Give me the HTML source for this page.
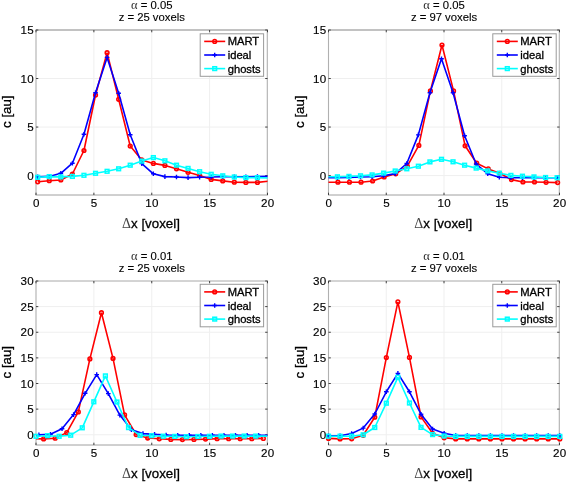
<!DOCTYPE html><html><head><meta charset="utf-8"><style>html,body{margin:0;padding:0;background:#fff;}svg{display:block;filter:blur(0.22px);}text{font-family:"Liberation Sans",sans-serif;fill:#000;stroke:#000;stroke-width:0.3px;}.s{font-family:"Liberation Serif",serif;}.tk{stroke-width:0.15px;letter-spacing:0.3px;}.tt{stroke-width:0.12px;}</style></head><body>
<svg width="567" height="482" viewBox="0 0 567 482">
<rect width="567" height="482" fill="#fff"/>
<defs>
<clipPath id="cpTL"><rect x="36.0" y="30.0" width="231.5" height="165.0"/></clipPath>
<clipPath id="cpTR"><rect x="328.5" y="30.0" width="231.0" height="165.0"/></clipPath>
<clipPath id="cpBL"><rect x="36.0" y="281.0" width="231.5" height="164.0"/></clipPath>
<clipPath id="cpBR"><rect x="328.5" y="281.0" width="231.0" height="164.0"/></clipPath>
</defs>
<path d="M93.88 30V195M151.75 30V195M209.62 30V195M36 175.59H267.5M36 127.06H267.5M36 78.53H267.5" stroke="#efefef" stroke-width="1" fill="none"/>
<path d="M35.5 30H268" stroke="#858585" stroke-width="1"/>
<path d="M35.5 195H268" stroke="#a0a0a0" stroke-width="1"/>
<path d="M36 30V195M267.3 30V195" stroke="#b0b0b0" stroke-width="1.1"/>
<path d="M36 195v-2.3M36 30v2.3M93.88 195v-2.3M93.88 30v2.3M151.75 195v-2.3M151.75 30v2.3M209.62 195v-2.3M209.62 30v2.3M267.5 195v-2.3M267.5 30v2.3M36 175.59h2.3M267.5 175.59h-2.3M36 127.06h2.3M267.5 127.06h-2.3M36 78.53h2.3M267.5 78.53h-2.3M36 30h2.3M267.5 30h-2.3" stroke="#404040" stroke-width="1" fill="none"/>
<g clip-path="url(#cpTL)" fill="none" stroke-linejoin="bevel" stroke-linecap="butt">
<polyline points="37.7,181.8 49.27,180.7 60.83,180 72.4,174 83.96,150.5 95.53,95 107.09,52.7 118.66,99.3 130.22,146.1 141.78,159.9 153.35,163.4 164.91,165.4 176.48,168.8 188.05,172.3 199.61,175.4 211.18,179.4 222.74,180.9 234.31,182.2 245.87,182.4 257.44,182.4 269,181.2" stroke="#ff0000" stroke-width="1.6"/>
</g><g fill="none">
<circle cx="37.7" cy="181.8" r="1.85" fill="none" stroke="#ff0000" stroke-width="1.55"/>
<circle cx="49.27" cy="180.7" r="1.85" fill="none" stroke="#ff0000" stroke-width="1.55"/>
<circle cx="60.83" cy="180" r="1.85" fill="none" stroke="#ff0000" stroke-width="1.55"/>
<circle cx="72.4" cy="174" r="1.85" fill="none" stroke="#ff0000" stroke-width="1.55"/>
<circle cx="83.96" cy="150.5" r="1.85" fill="none" stroke="#ff0000" stroke-width="1.55"/>
<circle cx="95.53" cy="95" r="1.85" fill="none" stroke="#ff0000" stroke-width="1.55"/>
<circle cx="107.09" cy="52.7" r="1.85" fill="none" stroke="#ff0000" stroke-width="1.55"/>
<circle cx="118.66" cy="99.3" r="1.85" fill="none" stroke="#ff0000" stroke-width="1.55"/>
<circle cx="130.22" cy="146.1" r="1.85" fill="none" stroke="#ff0000" stroke-width="1.55"/>
<circle cx="141.78" cy="159.9" r="1.85" fill="none" stroke="#ff0000" stroke-width="1.55"/>
<circle cx="153.35" cy="163.4" r="1.85" fill="none" stroke="#ff0000" stroke-width="1.55"/>
<circle cx="164.91" cy="165.4" r="1.85" fill="none" stroke="#ff0000" stroke-width="1.55"/>
<circle cx="176.48" cy="168.8" r="1.85" fill="none" stroke="#ff0000" stroke-width="1.55"/>
<circle cx="188.05" cy="172.3" r="1.85" fill="none" stroke="#ff0000" stroke-width="1.55"/>
<circle cx="199.61" cy="175.4" r="1.85" fill="none" stroke="#ff0000" stroke-width="1.55"/>
<circle cx="211.18" cy="179.4" r="1.85" fill="none" stroke="#ff0000" stroke-width="1.55"/>
<circle cx="222.74" cy="180.9" r="1.85" fill="none" stroke="#ff0000" stroke-width="1.55"/>
<circle cx="234.31" cy="182.2" r="1.85" fill="none" stroke="#ff0000" stroke-width="1.55"/>
<circle cx="245.87" cy="182.4" r="1.85" fill="none" stroke="#ff0000" stroke-width="1.55"/>
<circle cx="257.44" cy="182.4" r="1.85" fill="none" stroke="#ff0000" stroke-width="1.55"/>
</g>
<g clip-path="url(#cpTL)" fill="none" stroke-linejoin="bevel" stroke-linecap="butt">
<polyline points="37.7,176.9 49.27,176.4 60.83,173.3 72.4,163.2 83.96,134.2 95.53,92.7 107.09,57.4 118.66,93.3 130.22,134.8 141.78,163.6 153.35,173.8 164.91,176.6 176.48,177 188.05,177.6 199.61,177.2 211.18,177 222.74,176.7 234.31,176.7 245.87,176.7 257.44,176.6 269,176.4" stroke="#0000ff" stroke-width="1.6"/>
</g><g fill="none">
<path d="M35.4 176.9H40M37.7 174.6V179.2" stroke="#0000ff" stroke-width="1.4"/>
<path d="M46.97 176.4H51.56M49.27 174.1V178.7" stroke="#0000ff" stroke-width="1.4"/>
<path d="M58.53 173.3H63.13M60.83 171V175.6" stroke="#0000ff" stroke-width="1.4"/>
<path d="M70.1 163.2H74.7M72.4 160.9V165.5" stroke="#0000ff" stroke-width="1.4"/>
<path d="M81.66 134.2H86.26M83.96 131.9V136.5" stroke="#0000ff" stroke-width="1.4"/>
<path d="M93.23 92.7H97.83M95.53 90.4V95" stroke="#0000ff" stroke-width="1.4"/>
<path d="M104.79 57.4H109.39M107.09 55.1V59.7" stroke="#0000ff" stroke-width="1.4"/>
<path d="M116.36 93.3H120.95M118.66 91V95.6" stroke="#0000ff" stroke-width="1.4"/>
<path d="M127.92 134.8H132.52M130.22 132.5V137.1" stroke="#0000ff" stroke-width="1.4"/>
<path d="M139.48 163.6H144.09M141.78 161.3V165.9" stroke="#0000ff" stroke-width="1.4"/>
<path d="M151.05 173.8H155.65M153.35 171.5V176.1" stroke="#0000ff" stroke-width="1.4"/>
<path d="M162.61 176.6H167.22M164.91 174.3V178.9" stroke="#0000ff" stroke-width="1.4"/>
<path d="M174.18 177H178.78M176.48 174.7V179.3" stroke="#0000ff" stroke-width="1.4"/>
<path d="M185.75 177.6H190.35M188.05 175.3V179.9" stroke="#0000ff" stroke-width="1.4"/>
<path d="M197.31 177.2H201.91M199.61 174.9V179.5" stroke="#0000ff" stroke-width="1.4"/>
<path d="M208.88 177H213.48M211.18 174.7V179.3" stroke="#0000ff" stroke-width="1.4"/>
<path d="M220.44 176.7H225.04M222.74 174.4V179" stroke="#0000ff" stroke-width="1.4"/>
<path d="M232 176.7H236.61M234.31 174.4V179" stroke="#0000ff" stroke-width="1.4"/>
<path d="M243.57 176.7H248.17M245.87 174.4V179" stroke="#0000ff" stroke-width="1.4"/>
<path d="M255.13 176.6H259.74M257.44 174.3V178.9" stroke="#0000ff" stroke-width="1.4"/>
</g>
<g clip-path="url(#cpTL)" fill="none" stroke-linejoin="bevel" stroke-linecap="butt">
<polyline points="37.7,177.3 49.27,176.6 60.83,176.9 72.4,176.4 83.96,175.3 95.53,173.3 107.09,171.3 118.66,168.8 130.22,165.2 141.78,161.1 153.35,157.6 164.91,160.8 176.48,165.2 188.05,168.4 199.61,171.7 211.18,174.3 222.74,175.8 234.31,177 245.87,177.6 257.44,177.6 269,178" stroke="#00ffff" stroke-width="1.6"/>
</g><g fill="none">
<rect x="35.85" y="175.45" width="3.7" height="3.7" fill="none" stroke="#00ffff" stroke-width="1.55"/>
<rect x="47.41" y="174.75" width="3.7" height="3.7" fill="none" stroke="#00ffff" stroke-width="1.55"/>
<rect x="58.98" y="175.05" width="3.7" height="3.7" fill="none" stroke="#00ffff" stroke-width="1.55"/>
<rect x="70.55" y="174.55" width="3.7" height="3.7" fill="none" stroke="#00ffff" stroke-width="1.55"/>
<rect x="82.11" y="173.45" width="3.7" height="3.7" fill="none" stroke="#00ffff" stroke-width="1.55"/>
<rect x="93.68" y="171.45" width="3.7" height="3.7" fill="none" stroke="#00ffff" stroke-width="1.55"/>
<rect x="105.24" y="169.45" width="3.7" height="3.7" fill="none" stroke="#00ffff" stroke-width="1.55"/>
<rect x="116.81" y="166.95" width="3.7" height="3.7" fill="none" stroke="#00ffff" stroke-width="1.55"/>
<rect x="128.37" y="163.35" width="3.7" height="3.7" fill="none" stroke="#00ffff" stroke-width="1.55"/>
<rect x="139.94" y="159.25" width="3.7" height="3.7" fill="none" stroke="#00ffff" stroke-width="1.55"/>
<rect x="151.5" y="155.75" width="3.7" height="3.7" fill="none" stroke="#00ffff" stroke-width="1.55"/>
<rect x="163.06" y="158.95" width="3.7" height="3.7" fill="none" stroke="#00ffff" stroke-width="1.55"/>
<rect x="174.63" y="163.35" width="3.7" height="3.7" fill="none" stroke="#00ffff" stroke-width="1.55"/>
<rect x="186.2" y="166.55" width="3.7" height="3.7" fill="none" stroke="#00ffff" stroke-width="1.55"/>
<rect x="197.76" y="169.85" width="3.7" height="3.7" fill="none" stroke="#00ffff" stroke-width="1.55"/>
<rect x="209.33" y="172.45" width="3.7" height="3.7" fill="none" stroke="#00ffff" stroke-width="1.55"/>
<rect x="220.89" y="173.95" width="3.7" height="3.7" fill="none" stroke="#00ffff" stroke-width="1.55"/>
<rect x="232.46" y="175.15" width="3.7" height="3.7" fill="none" stroke="#00ffff" stroke-width="1.55"/>
<rect x="244.02" y="175.75" width="3.7" height="3.7" fill="none" stroke="#00ffff" stroke-width="1.55"/>
<rect x="255.59" y="175.75" width="3.7" height="3.7" fill="none" stroke="#00ffff" stroke-width="1.55"/>
</g>
<text x="36.25" y="207.4" font-size="11.6" class="tk" text-anchor="middle">0</text>
<text x="94.12" y="207.4" font-size="11.6" class="tk" text-anchor="middle">5</text>
<text x="152" y="207.4" font-size="11.6" class="tk" text-anchor="middle">10</text>
<text x="209.88" y="207.4" font-size="11.6" class="tk" text-anchor="middle">15</text>
<text x="267.75" y="207.4" font-size="11.6" class="tk" text-anchor="middle">20</text>
<text x="34" y="179.59" font-size="11.6" class="tk" text-anchor="end">0</text>
<text x="34" y="131.06" font-size="11.6" class="tk" text-anchor="end">5</text>
<text x="34" y="82.53" font-size="11.6" class="tk" text-anchor="end">10</text>
<text x="34" y="34" font-size="11.6" class="tk" text-anchor="end">15</text>
<text x="151.75" y="9.2" font-size="11.3" class="tt" text-anchor="middle"><tspan class="s" font-size="12.5" fill="#333" stroke="none">&#945;</tspan> = 0.05</text>
<text x="151.75" y="21.4" font-size="11.3" class="tt" text-anchor="middle">z = 25 voxels</text>
<text x="150.95" y="227.8" font-size="13.3" text-anchor="middle"><tspan class="s" fill="#444" stroke="none" font-size="14">&#916;</tspan>x [voxel]</text>
<text transform="translate(11,111.7) rotate(-90)" font-size="13.3" text-anchor="middle">c [au]</text>
<rect x="200.2" y="33.8" width="63.4" height="42.5" fill="#fff" stroke="#9a9a9a" stroke-width="1"/>
<path d="M204.2 41.4H225.2" stroke="#ff0000" stroke-width="1.6"/>
<circle cx="214.7" cy="41.4" r="1.85" fill="none" stroke="#ff0000" stroke-width="1.55"/>
<text x="227.7" y="45.4" font-size="11.2">MART</text>
<path d="M204.2 55H225.2" stroke="#0000ff" stroke-width="1.6"/>
<path d="M212.4 55H217M214.7 52.7V57.3" stroke="#0000ff" stroke-width="1.4"/>
<text x="227.7" y="59" font-size="11.2">ideal</text>
<path d="M204.2 68.6H225.2" stroke="#00ffff" stroke-width="1.6"/>
<rect x="212.85" y="66.75" width="3.7" height="3.7" fill="none" stroke="#00ffff" stroke-width="1.55"/>
<text x="227.7" y="72.6" font-size="11.2">ghosts</text>
<path d="M386.25 30V195M444 30V195M501.75 30V195M328.5 175.59H559.5M328.5 127.06H559.5M328.5 78.53H559.5" stroke="#efefef" stroke-width="1" fill="none"/>
<path d="M328 30H560" stroke="#858585" stroke-width="1"/>
<path d="M328 195H560" stroke="#a0a0a0" stroke-width="1"/>
<path d="M328.5 30V195M559.3 30V195" stroke="#b0b0b0" stroke-width="1.1"/>
<path d="M328.5 195v-2.3M328.5 30v2.3M386.25 195v-2.3M386.25 30v2.3M444 195v-2.3M444 30v2.3M501.75 195v-2.3M501.75 30v2.3M559.5 195v-2.3M559.5 30v2.3M328.5 175.59h2.3M559.5 175.59h-2.3M328.5 127.06h2.3M559.5 127.06h-2.3M328.5 78.53h2.3M559.5 78.53h-2.3M328.5 30h2.3M559.5 30h-2.3" stroke="#404040" stroke-width="1" fill="none"/>
<g clip-path="url(#cpTR)" fill="none" stroke-linejoin="bevel" stroke-linecap="butt">
<polyline points="326.33,182.2 337.9,182.2 349.46,182.2 361.03,182.2 372.59,181 384.16,177 395.72,173.8 407.29,166.2 418.85,145.4 430.42,90.9 441.98,45 453.55,90.9 465.11,145.8 476.68,163.2 488.25,168.9 499.81,173.3 511.38,179.6 522.94,182 534.5,182 546.07,182.3 557.63,182.6" stroke="#ff0000" stroke-width="1.6"/>
</g><g fill="none">
<circle cx="337.9" cy="182.2" r="1.85" fill="none" stroke="#ff0000" stroke-width="1.55"/>
<circle cx="349.46" cy="182.2" r="1.85" fill="none" stroke="#ff0000" stroke-width="1.55"/>
<circle cx="361.03" cy="182.2" r="1.85" fill="none" stroke="#ff0000" stroke-width="1.55"/>
<circle cx="372.59" cy="181" r="1.85" fill="none" stroke="#ff0000" stroke-width="1.55"/>
<circle cx="384.16" cy="177" r="1.85" fill="none" stroke="#ff0000" stroke-width="1.55"/>
<circle cx="395.72" cy="173.8" r="1.85" fill="none" stroke="#ff0000" stroke-width="1.55"/>
<circle cx="407.29" cy="166.2" r="1.85" fill="none" stroke="#ff0000" stroke-width="1.55"/>
<circle cx="418.85" cy="145.4" r="1.85" fill="none" stroke="#ff0000" stroke-width="1.55"/>
<circle cx="430.42" cy="90.9" r="1.85" fill="none" stroke="#ff0000" stroke-width="1.55"/>
<circle cx="441.98" cy="45" r="1.85" fill="none" stroke="#ff0000" stroke-width="1.55"/>
<circle cx="453.55" cy="90.9" r="1.85" fill="none" stroke="#ff0000" stroke-width="1.55"/>
<circle cx="465.11" cy="145.8" r="1.85" fill="none" stroke="#ff0000" stroke-width="1.55"/>
<circle cx="476.68" cy="163.2" r="1.85" fill="none" stroke="#ff0000" stroke-width="1.55"/>
<circle cx="488.25" cy="168.9" r="1.85" fill="none" stroke="#ff0000" stroke-width="1.55"/>
<circle cx="499.81" cy="173.3" r="1.85" fill="none" stroke="#ff0000" stroke-width="1.55"/>
<circle cx="511.38" cy="179.6" r="1.85" fill="none" stroke="#ff0000" stroke-width="1.55"/>
<circle cx="522.94" cy="182" r="1.85" fill="none" stroke="#ff0000" stroke-width="1.55"/>
<circle cx="534.5" cy="182" r="1.85" fill="none" stroke="#ff0000" stroke-width="1.55"/>
<circle cx="546.07" cy="182.3" r="1.85" fill="none" stroke="#ff0000" stroke-width="1.55"/>
<circle cx="557.63" cy="182.6" r="1.85" fill="none" stroke="#ff0000" stroke-width="1.55"/>
</g>
<g clip-path="url(#cpTR)" fill="none" stroke-linejoin="bevel" stroke-linecap="butt">
<polyline points="325.83,177.8 337.4,177.7 348.96,177.4 360.53,177 372.09,176.8 383.66,175.8 395.22,173.6 406.79,163.5 418.35,134.9 429.92,92.7 441.48,58.7 453.05,92.7 464.61,135.8 476.18,164 487.75,173.8 499.31,177.2 510.88,177.8 522.44,177.7 534,177.7 545.57,177.7 557.13,177.7" stroke="#0000ff" stroke-width="1.6"/>
</g><g fill="none">
<path d="M335.1 177.7H339.7M337.4 175.4V180" stroke="#0000ff" stroke-width="1.4"/>
<path d="M346.66 177.4H351.26M348.96 175.1V179.7" stroke="#0000ff" stroke-width="1.4"/>
<path d="M358.23 177H362.83M360.53 174.7V179.3" stroke="#0000ff" stroke-width="1.4"/>
<path d="M369.79 176.8H374.39M372.09 174.5V179.1" stroke="#0000ff" stroke-width="1.4"/>
<path d="M381.36 175.8H385.96M383.66 173.5V178.1" stroke="#0000ff" stroke-width="1.4"/>
<path d="M392.92 173.6H397.52M395.22 171.3V175.9" stroke="#0000ff" stroke-width="1.4"/>
<path d="M404.49 163.5H409.09M406.79 161.2V165.8" stroke="#0000ff" stroke-width="1.4"/>
<path d="M416.05 134.9H420.65M418.35 132.6V137.2" stroke="#0000ff" stroke-width="1.4"/>
<path d="M427.62 92.7H432.22M429.92 90.4V95" stroke="#0000ff" stroke-width="1.4"/>
<path d="M439.18 58.7H443.78M441.48 56.4V61" stroke="#0000ff" stroke-width="1.4"/>
<path d="M450.75 92.7H455.35M453.05 90.4V95" stroke="#0000ff" stroke-width="1.4"/>
<path d="M462.31 135.8H466.91M464.61 133.5V138.1" stroke="#0000ff" stroke-width="1.4"/>
<path d="M473.88 164H478.48M476.18 161.7V166.3" stroke="#0000ff" stroke-width="1.4"/>
<path d="M485.44 173.8H490.05M487.75 171.5V176.1" stroke="#0000ff" stroke-width="1.4"/>
<path d="M497.01 177.2H501.61M499.31 174.9V179.5" stroke="#0000ff" stroke-width="1.4"/>
<path d="M508.57 177.8H513.17M510.88 175.5V180.1" stroke="#0000ff" stroke-width="1.4"/>
<path d="M520.14 177.7H524.74M522.44 175.4V180" stroke="#0000ff" stroke-width="1.4"/>
<path d="M531.71 177.7H536.3M534 175.4V180" stroke="#0000ff" stroke-width="1.4"/>
<path d="M543.27 177.7H547.87M545.57 175.4V180" stroke="#0000ff" stroke-width="1.4"/>
<path d="M554.84 177.7H559.43M557.13 175.4V180" stroke="#0000ff" stroke-width="1.4"/>
</g>
<g clip-path="url(#cpTR)" fill="none" stroke-linejoin="bevel" stroke-linecap="butt">
<polyline points="325.83,176.8 337.4,176.8 348.96,176.4 360.53,175.8 372.09,174.9 383.66,173.1 395.22,171 406.79,168.8 418.35,166.2 429.92,161.9 441.48,159.3 453.05,161.8 464.61,165.2 476.18,168.1 487.75,170.9 499.31,173.2 510.88,175.4 522.44,176.2 534,176.9 545.57,177.5 557.13,177.7" stroke="#00ffff" stroke-width="1.6"/>
</g><g fill="none">
<rect x="335.55" y="174.95" width="3.7" height="3.7" fill="none" stroke="#00ffff" stroke-width="1.55"/>
<rect x="347.11" y="174.55" width="3.7" height="3.7" fill="none" stroke="#00ffff" stroke-width="1.55"/>
<rect x="358.68" y="173.95" width="3.7" height="3.7" fill="none" stroke="#00ffff" stroke-width="1.55"/>
<rect x="370.24" y="173.05" width="3.7" height="3.7" fill="none" stroke="#00ffff" stroke-width="1.55"/>
<rect x="381.81" y="171.25" width="3.7" height="3.7" fill="none" stroke="#00ffff" stroke-width="1.55"/>
<rect x="393.37" y="169.15" width="3.7" height="3.7" fill="none" stroke="#00ffff" stroke-width="1.55"/>
<rect x="404.94" y="166.95" width="3.7" height="3.7" fill="none" stroke="#00ffff" stroke-width="1.55"/>
<rect x="416.5" y="164.35" width="3.7" height="3.7" fill="none" stroke="#00ffff" stroke-width="1.55"/>
<rect x="428.07" y="160.05" width="3.7" height="3.7" fill="none" stroke="#00ffff" stroke-width="1.55"/>
<rect x="439.63" y="157.45" width="3.7" height="3.7" fill="none" stroke="#00ffff" stroke-width="1.55"/>
<rect x="451.2" y="159.95" width="3.7" height="3.7" fill="none" stroke="#00ffff" stroke-width="1.55"/>
<rect x="462.76" y="163.35" width="3.7" height="3.7" fill="none" stroke="#00ffff" stroke-width="1.55"/>
<rect x="474.33" y="166.25" width="3.7" height="3.7" fill="none" stroke="#00ffff" stroke-width="1.55"/>
<rect x="485.89" y="169.05" width="3.7" height="3.7" fill="none" stroke="#00ffff" stroke-width="1.55"/>
<rect x="497.46" y="171.35" width="3.7" height="3.7" fill="none" stroke="#00ffff" stroke-width="1.55"/>
<rect x="509.02" y="173.55" width="3.7" height="3.7" fill="none" stroke="#00ffff" stroke-width="1.55"/>
<rect x="520.59" y="174.35" width="3.7" height="3.7" fill="none" stroke="#00ffff" stroke-width="1.55"/>
<rect x="532.15" y="175.05" width="3.7" height="3.7" fill="none" stroke="#00ffff" stroke-width="1.55"/>
<rect x="543.72" y="175.65" width="3.7" height="3.7" fill="none" stroke="#00ffff" stroke-width="1.55"/>
<rect x="555.28" y="175.85" width="3.7" height="3.7" fill="none" stroke="#00ffff" stroke-width="1.55"/>
</g>
<text x="328.75" y="207.4" font-size="11.6" class="tk" text-anchor="middle">0</text>
<text x="386.5" y="207.4" font-size="11.6" class="tk" text-anchor="middle">5</text>
<text x="444.25" y="207.4" font-size="11.6" class="tk" text-anchor="middle">10</text>
<text x="502" y="207.4" font-size="11.6" class="tk" text-anchor="middle">15</text>
<text x="559.75" y="207.4" font-size="11.6" class="tk" text-anchor="middle">20</text>
<text x="326.5" y="179.59" font-size="11.6" class="tk" text-anchor="end">0</text>
<text x="326.5" y="131.06" font-size="11.6" class="tk" text-anchor="end">5</text>
<text x="326.5" y="82.53" font-size="11.6" class="tk" text-anchor="end">10</text>
<text x="326.5" y="34" font-size="11.6" class="tk" text-anchor="end">15</text>
<text x="444" y="9.2" font-size="11.3" class="tt" text-anchor="middle"><tspan class="s" font-size="12.5" fill="#333" stroke="none">&#945;</tspan> = 0.05</text>
<text x="444" y="21.4" font-size="11.3" class="tt" text-anchor="middle">z = 97 voxels</text>
<text x="443.2" y="227.8" font-size="13.3" text-anchor="middle"><tspan class="s" fill="#444" stroke="none" font-size="14">&#916;</tspan>x [voxel]</text>
<text transform="translate(303.5,111.7) rotate(-90)" font-size="13.3" text-anchor="middle">c [au]</text>
<rect x="492.8" y="33.8" width="63.4" height="42.5" fill="#fff" stroke="#9a9a9a" stroke-width="1"/>
<path d="M496.8 41.4H517.8" stroke="#ff0000" stroke-width="1.6"/>
<circle cx="507.3" cy="41.4" r="1.85" fill="none" stroke="#ff0000" stroke-width="1.55"/>
<text x="520.3" y="45.4" font-size="11.2">MART</text>
<path d="M496.8 55H517.8" stroke="#0000ff" stroke-width="1.6"/>
<path d="M505 55H509.6M507.3 52.7V57.3" stroke="#0000ff" stroke-width="1.4"/>
<text x="520.3" y="59" font-size="11.2">ideal</text>
<path d="M496.8 68.6H517.8" stroke="#00ffff" stroke-width="1.6"/>
<rect x="505.45" y="66.75" width="3.7" height="3.7" fill="none" stroke="#00ffff" stroke-width="1.55"/>
<text x="520.3" y="72.6" font-size="11.2">ghosts</text>
<path d="M93.88 281V445M151.75 281V445M209.62 281V445M36 434.75H267.5M36 409.12H267.5M36 383.5H267.5M36 357.88H267.5M36 332.25H267.5M36 306.62H267.5" stroke="#efefef" stroke-width="1" fill="none"/>
<path d="M35.5 281H268" stroke="#a8a8a8" stroke-width="1"/>
<path d="M35.5 445H268" stroke="#a0a0a0" stroke-width="1"/>
<path d="M36 281V445M267.3 281V445" stroke="#b0b0b0" stroke-width="1.1"/>
<path d="M36 445v-2.3M36 281v2.3M93.88 445v-2.3M93.88 281v2.3M151.75 445v-2.3M151.75 281v2.3M209.62 445v-2.3M209.62 281v2.3M267.5 445v-2.3M267.5 281v2.3M36 434.75h2.3M267.5 434.75h-2.3M36 409.12h2.3M267.5 409.12h-2.3M36 383.5h2.3M267.5 383.5h-2.3M36 357.88h2.3M267.5 357.88h-2.3M36 332.25h2.3M267.5 332.25h-2.3M36 306.62h2.3M267.5 306.62h-2.3M36 281h2.3M267.5 281h-2.3" stroke="#404040" stroke-width="1" fill="none"/>
<g clip-path="url(#cpBL)" fill="none" stroke-linejoin="bevel" stroke-linecap="butt">
<polyline points="32.05,438.6 43.62,438.9 55.18,438.2 66.75,432.6 78.31,411.9 89.88,358.9 101.44,312.7 113.01,358.4 124.57,414.9 136.14,434.5 147.7,438 159.27,438.8 170.83,439.4 182.4,439.6 193.97,439.4 205.53,439.1 217.09,438.7 228.66,438.7 240.22,438.7 251.79,438.7 263.35,438.4" stroke="#ff0000" stroke-width="1.6"/>
</g><g fill="none">
<circle cx="43.62" cy="438.9" r="1.85" fill="none" stroke="#ff0000" stroke-width="1.55"/>
<circle cx="55.18" cy="438.2" r="1.85" fill="none" stroke="#ff0000" stroke-width="1.55"/>
<circle cx="66.75" cy="432.6" r="1.85" fill="none" stroke="#ff0000" stroke-width="1.55"/>
<circle cx="78.31" cy="411.9" r="1.85" fill="none" stroke="#ff0000" stroke-width="1.55"/>
<circle cx="89.88" cy="358.9" r="1.85" fill="none" stroke="#ff0000" stroke-width="1.55"/>
<circle cx="101.44" cy="312.7" r="1.85" fill="none" stroke="#ff0000" stroke-width="1.55"/>
<circle cx="113.01" cy="358.4" r="1.85" fill="none" stroke="#ff0000" stroke-width="1.55"/>
<circle cx="124.57" cy="414.9" r="1.85" fill="none" stroke="#ff0000" stroke-width="1.55"/>
<circle cx="136.14" cy="434.5" r="1.85" fill="none" stroke="#ff0000" stroke-width="1.55"/>
<circle cx="147.7" cy="438" r="1.85" fill="none" stroke="#ff0000" stroke-width="1.55"/>
<circle cx="159.27" cy="438.8" r="1.85" fill="none" stroke="#ff0000" stroke-width="1.55"/>
<circle cx="170.83" cy="439.4" r="1.85" fill="none" stroke="#ff0000" stroke-width="1.55"/>
<circle cx="182.4" cy="439.6" r="1.85" fill="none" stroke="#ff0000" stroke-width="1.55"/>
<circle cx="193.97" cy="439.4" r="1.85" fill="none" stroke="#ff0000" stroke-width="1.55"/>
<circle cx="205.53" cy="439.1" r="1.85" fill="none" stroke="#ff0000" stroke-width="1.55"/>
<circle cx="217.09" cy="438.7" r="1.85" fill="none" stroke="#ff0000" stroke-width="1.55"/>
<circle cx="228.66" cy="438.7" r="1.85" fill="none" stroke="#ff0000" stroke-width="1.55"/>
<circle cx="240.22" cy="438.7" r="1.85" fill="none" stroke="#ff0000" stroke-width="1.55"/>
<circle cx="251.79" cy="438.7" r="1.85" fill="none" stroke="#ff0000" stroke-width="1.55"/>
<circle cx="263.35" cy="438.4" r="1.85" fill="none" stroke="#ff0000" stroke-width="1.55"/>
</g>
<g clip-path="url(#cpBL)" fill="none" stroke-linejoin="bevel" stroke-linecap="butt">
<polyline points="27.34,435 38.9,434.7 50.46,434.2 62.03,428.7 73.59,414.6 85.16,393.3 96.72,374.6 108.29,393.6 119.85,415.1 131.42,429.8 142.98,433.6 154.55,434.4 166.11,435 177.68,435.3 189.25,435.3 200.81,435.3 212.38,435.3 223.94,435.3 235.5,435.3 247.07,435.3 258.63,435.3 270.2,435.3" stroke="#0000ff" stroke-width="1.6"/>
</g><g fill="none">
<path d="M36.6 434.7H41.2M38.9 432.4V437" stroke="#0000ff" stroke-width="1.4"/>
<path d="M48.16 434.2H52.76M50.46 431.9V436.5" stroke="#0000ff" stroke-width="1.4"/>
<path d="M59.73 428.7H64.33M62.03 426.4V431" stroke="#0000ff" stroke-width="1.4"/>
<path d="M71.3 414.6H75.89M73.59 412.3V416.9" stroke="#0000ff" stroke-width="1.4"/>
<path d="M82.86 393.3H87.46M85.16 391V395.6" stroke="#0000ff" stroke-width="1.4"/>
<path d="M94.42 374.6H99.02M96.72 372.3V376.9" stroke="#0000ff" stroke-width="1.4"/>
<path d="M105.99 393.6H110.59M108.29 391.3V395.9" stroke="#0000ff" stroke-width="1.4"/>
<path d="M117.55 415.1H122.15M119.85 412.8V417.4" stroke="#0000ff" stroke-width="1.4"/>
<path d="M129.12 429.8H133.72M131.42 427.5V432.1" stroke="#0000ff" stroke-width="1.4"/>
<path d="M140.68 433.6H145.28M142.98 431.3V435.9" stroke="#0000ff" stroke-width="1.4"/>
<path d="M152.25 434.4H156.85M154.55 432.1V436.7" stroke="#0000ff" stroke-width="1.4"/>
<path d="M163.81 435H168.41M166.11 432.7V437.3" stroke="#0000ff" stroke-width="1.4"/>
<path d="M175.38 435.3H179.98M177.68 433V437.6" stroke="#0000ff" stroke-width="1.4"/>
<path d="M186.94 435.3H191.55M189.25 433V437.6" stroke="#0000ff" stroke-width="1.4"/>
<path d="M198.51 435.3H203.11M200.81 433V437.6" stroke="#0000ff" stroke-width="1.4"/>
<path d="M210.07 435.3H214.68M212.38 433V437.6" stroke="#0000ff" stroke-width="1.4"/>
<path d="M221.64 435.3H226.24M223.94 433V437.6" stroke="#0000ff" stroke-width="1.4"/>
<path d="M233.2 435.3H237.81M235.5 433V437.6" stroke="#0000ff" stroke-width="1.4"/>
<path d="M244.77 435.3H249.37M247.07 433V437.6" stroke="#0000ff" stroke-width="1.4"/>
<path d="M256.33 435.3H260.94M258.63 433V437.6" stroke="#0000ff" stroke-width="1.4"/>
</g>
<g clip-path="url(#cpBL)" fill="none" stroke-linejoin="bevel" stroke-linecap="butt">
<polyline points="36,436.3 47.56,435.7 59.13,436.3 70.69,435.2 82.26,427.8 93.82,401.8 105.39,375.9 116.95,402 128.52,427.6 140.08,435.4 151.65,435.7 163.21,436.2 174.78,436.4 186.34,436.7 197.91,436.5 209.47,436.3 221.04,436.1 232.6,436.1 244.17,436.1 255.73,436.1 267.3,436.1" stroke="#00ffff" stroke-width="1.6"/>
</g><g fill="none">
<rect x="34.15" y="434.45" width="3.7" height="3.7" fill="none" stroke="#00ffff" stroke-width="1.55"/>
<rect x="45.71" y="433.85" width="3.7" height="3.7" fill="none" stroke="#00ffff" stroke-width="1.55"/>
<rect x="57.28" y="434.45" width="3.7" height="3.7" fill="none" stroke="#00ffff" stroke-width="1.55"/>
<rect x="68.84" y="433.35" width="3.7" height="3.7" fill="none" stroke="#00ffff" stroke-width="1.55"/>
<rect x="80.41" y="425.95" width="3.7" height="3.7" fill="none" stroke="#00ffff" stroke-width="1.55"/>
<rect x="91.97" y="399.95" width="3.7" height="3.7" fill="none" stroke="#00ffff" stroke-width="1.55"/>
<rect x="103.54" y="374.05" width="3.7" height="3.7" fill="none" stroke="#00ffff" stroke-width="1.55"/>
<rect x="115.11" y="400.15" width="3.7" height="3.7" fill="none" stroke="#00ffff" stroke-width="1.55"/>
<rect x="126.67" y="425.75" width="3.7" height="3.7" fill="none" stroke="#00ffff" stroke-width="1.55"/>
<rect x="138.23" y="433.55" width="3.7" height="3.7" fill="none" stroke="#00ffff" stroke-width="1.55"/>
<rect x="149.8" y="433.85" width="3.7" height="3.7" fill="none" stroke="#00ffff" stroke-width="1.55"/>
<rect x="161.36" y="434.35" width="3.7" height="3.7" fill="none" stroke="#00ffff" stroke-width="1.55"/>
<rect x="172.93" y="434.55" width="3.7" height="3.7" fill="none" stroke="#00ffff" stroke-width="1.55"/>
<rect x="184.5" y="434.85" width="3.7" height="3.7" fill="none" stroke="#00ffff" stroke-width="1.55"/>
<rect x="196.06" y="434.65" width="3.7" height="3.7" fill="none" stroke="#00ffff" stroke-width="1.55"/>
<rect x="207.62" y="434.45" width="3.7" height="3.7" fill="none" stroke="#00ffff" stroke-width="1.55"/>
<rect x="219.19" y="434.25" width="3.7" height="3.7" fill="none" stroke="#00ffff" stroke-width="1.55"/>
<rect x="230.75" y="434.25" width="3.7" height="3.7" fill="none" stroke="#00ffff" stroke-width="1.55"/>
<rect x="242.32" y="434.25" width="3.7" height="3.7" fill="none" stroke="#00ffff" stroke-width="1.55"/>
<rect x="253.88" y="434.25" width="3.7" height="3.7" fill="none" stroke="#00ffff" stroke-width="1.55"/>
</g>
<text x="36.25" y="457.4" font-size="11.6" class="tk" text-anchor="middle">0</text>
<text x="94.12" y="457.4" font-size="11.6" class="tk" text-anchor="middle">5</text>
<text x="152" y="457.4" font-size="11.6" class="tk" text-anchor="middle">10</text>
<text x="209.88" y="457.4" font-size="11.6" class="tk" text-anchor="middle">15</text>
<text x="267.75" y="457.4" font-size="11.6" class="tk" text-anchor="middle">20</text>
<text x="34" y="438.75" font-size="11.6" class="tk" text-anchor="end">0</text>
<text x="34" y="413.12" font-size="11.6" class="tk" text-anchor="end">5</text>
<text x="34" y="387.5" font-size="11.6" class="tk" text-anchor="end">10</text>
<text x="34" y="361.88" font-size="11.6" class="tk" text-anchor="end">15</text>
<text x="34" y="336.25" font-size="11.6" class="tk" text-anchor="end">20</text>
<text x="34" y="310.62" font-size="11.6" class="tk" text-anchor="end">25</text>
<text x="34" y="285" font-size="11.6" class="tk" text-anchor="end">30</text>
<text x="151.75" y="259.9" font-size="11.3" class="tt" text-anchor="middle"><tspan class="s" font-size="12.5" fill="#333" stroke="none">&#945;</tspan> = 0.01</text>
<text x="151.75" y="272.1" font-size="11.3" class="tt" text-anchor="middle">z = 25 voxels</text>
<text x="150.95" y="477.8" font-size="13.3" text-anchor="middle"><tspan class="s" fill="#444" stroke="none" font-size="14">&#916;</tspan>x [voxel]</text>
<text transform="translate(11,362.2) rotate(-90)" font-size="13.3" text-anchor="middle">c [au]</text>
<rect x="200.2" y="284.3" width="63.4" height="42.5" fill="#fff" stroke="#9a9a9a" stroke-width="1"/>
<path d="M204.2 291.9H225.2" stroke="#ff0000" stroke-width="1.6"/>
<circle cx="214.7" cy="291.9" r="1.85" fill="none" stroke="#ff0000" stroke-width="1.55"/>
<text x="227.7" y="295.9" font-size="11.2">MART</text>
<path d="M204.2 305.5H225.2" stroke="#0000ff" stroke-width="1.6"/>
<path d="M212.4 305.5H217M214.7 303.2V307.8" stroke="#0000ff" stroke-width="1.4"/>
<text x="227.7" y="309.5" font-size="11.2">ideal</text>
<path d="M204.2 319.1H225.2" stroke="#00ffff" stroke-width="1.6"/>
<rect x="212.85" y="317.25" width="3.7" height="3.7" fill="none" stroke="#00ffff" stroke-width="1.55"/>
<text x="227.7" y="323.1" font-size="11.2">ghosts</text>
<path d="M386.25 281V445M444 281V445M501.75 281V445M328.5 434.75H559.5M328.5 409.12H559.5M328.5 383.5H559.5M328.5 357.88H559.5M328.5 332.25H559.5M328.5 306.62H559.5" stroke="#efefef" stroke-width="1" fill="none"/>
<path d="M328 281H560" stroke="#a8a8a8" stroke-width="1"/>
<path d="M328 445H560" stroke="#a0a0a0" stroke-width="1"/>
<path d="M328.5 281V445M559.3 281V445" stroke="#b0b0b0" stroke-width="1.1"/>
<path d="M328.5 445v-2.3M328.5 281v2.3M386.25 445v-2.3M386.25 281v2.3M444 445v-2.3M444 281v2.3M501.75 445v-2.3M501.75 281v2.3M559.5 445v-2.3M559.5 281v2.3M328.5 434.75h2.3M559.5 434.75h-2.3M328.5 409.12h2.3M559.5 409.12h-2.3M328.5 383.5h2.3M559.5 383.5h-2.3M328.5 357.88h2.3M559.5 357.88h-2.3M328.5 332.25h2.3M559.5 332.25h-2.3M328.5 306.62h2.3M559.5 306.62h-2.3M328.5 281h2.3M559.5 281h-2.3" stroke="#404040" stroke-width="1" fill="none"/>
<g clip-path="url(#cpBR)" fill="none" stroke-linejoin="bevel" stroke-linecap="butt">
<polyline points="328.5,438.4 340.06,438.9 351.63,438.8 363.19,435.3 374.76,417.2 386.32,357.6 397.89,301.8 409.45,357.4 421.02,416.9 432.58,433.3 444.15,437.8 455.71,438.9 467.28,438.9 478.85,438.9 490.41,438.9 501.98,438.9 513.54,438.9 525.11,438.9 536.67,438.9 548.24,438.9 559.8,438.9" stroke="#ff0000" stroke-width="1.6"/>
</g><g fill="none">
<circle cx="328.5" cy="438.4" r="1.85" fill="none" stroke="#ff0000" stroke-width="1.55"/>
<circle cx="340.06" cy="438.9" r="1.85" fill="none" stroke="#ff0000" stroke-width="1.55"/>
<circle cx="351.63" cy="438.8" r="1.85" fill="none" stroke="#ff0000" stroke-width="1.55"/>
<circle cx="363.19" cy="435.3" r="1.85" fill="none" stroke="#ff0000" stroke-width="1.55"/>
<circle cx="374.76" cy="417.2" r="1.85" fill="none" stroke="#ff0000" stroke-width="1.55"/>
<circle cx="386.32" cy="357.6" r="1.85" fill="none" stroke="#ff0000" stroke-width="1.55"/>
<circle cx="397.89" cy="301.8" r="1.85" fill="none" stroke="#ff0000" stroke-width="1.55"/>
<circle cx="409.45" cy="357.4" r="1.85" fill="none" stroke="#ff0000" stroke-width="1.55"/>
<circle cx="421.02" cy="416.9" r="1.85" fill="none" stroke="#ff0000" stroke-width="1.55"/>
<circle cx="432.58" cy="433.3" r="1.85" fill="none" stroke="#ff0000" stroke-width="1.55"/>
<circle cx="444.15" cy="437.8" r="1.85" fill="none" stroke="#ff0000" stroke-width="1.55"/>
<circle cx="455.71" cy="438.9" r="1.85" fill="none" stroke="#ff0000" stroke-width="1.55"/>
<circle cx="467.28" cy="438.9" r="1.85" fill="none" stroke="#ff0000" stroke-width="1.55"/>
<circle cx="478.85" cy="438.9" r="1.85" fill="none" stroke="#ff0000" stroke-width="1.55"/>
<circle cx="490.41" cy="438.9" r="1.85" fill="none" stroke="#ff0000" stroke-width="1.55"/>
<circle cx="501.98" cy="438.9" r="1.85" fill="none" stroke="#ff0000" stroke-width="1.55"/>
<circle cx="513.54" cy="438.9" r="1.85" fill="none" stroke="#ff0000" stroke-width="1.55"/>
<circle cx="525.11" cy="438.9" r="1.85" fill="none" stroke="#ff0000" stroke-width="1.55"/>
<circle cx="536.67" cy="438.9" r="1.85" fill="none" stroke="#ff0000" stroke-width="1.55"/>
<circle cx="548.24" cy="438.9" r="1.85" fill="none" stroke="#ff0000" stroke-width="1.55"/>
<circle cx="559.8" cy="438.9" r="1.85" fill="none" stroke="#ff0000" stroke-width="1.55"/>
</g>
<g clip-path="url(#cpBR)" fill="none" stroke-linejoin="bevel" stroke-linecap="butt">
<polyline points="328.5,435.7 340.06,435.7 351.63,433.5 363.19,428.1 374.76,414 386.32,391.8 397.89,373.4 409.45,391.8 421.02,414.2 432.58,429 444.15,433.3 455.71,435.5 467.28,435.5 478.85,435.5 490.41,435.5 501.98,435.5 513.54,435.5 525.11,435.5 536.67,435.5 548.24,435.5 559.8,435.5" stroke="#0000ff" stroke-width="1.6"/>
</g><g fill="none">
<path d="M326.2 435.7H330.8M328.5 433.4V438" stroke="#0000ff" stroke-width="1.4"/>
<path d="M337.76 435.7H342.37M340.06 433.4V438" stroke="#0000ff" stroke-width="1.4"/>
<path d="M349.33 433.5H353.93M351.63 431.2V435.8" stroke="#0000ff" stroke-width="1.4"/>
<path d="M360.89 428.1H365.5M363.19 425.8V430.4" stroke="#0000ff" stroke-width="1.4"/>
<path d="M372.46 414H377.06M374.76 411.7V416.3" stroke="#0000ff" stroke-width="1.4"/>
<path d="M384.02 391.8H388.62M386.32 389.5V394.1" stroke="#0000ff" stroke-width="1.4"/>
<path d="M395.59 373.4H400.19M397.89 371.1V375.7" stroke="#0000ff" stroke-width="1.4"/>
<path d="M407.15 391.8H411.75M409.45 389.5V394.1" stroke="#0000ff" stroke-width="1.4"/>
<path d="M418.72 414.2H423.32M421.02 411.9V416.5" stroke="#0000ff" stroke-width="1.4"/>
<path d="M430.28 429H434.88M432.58 426.7V431.3" stroke="#0000ff" stroke-width="1.4"/>
<path d="M441.85 433.3H446.45M444.15 431V435.6" stroke="#0000ff" stroke-width="1.4"/>
<path d="M453.41 435.5H458.01M455.71 433.2V437.8" stroke="#0000ff" stroke-width="1.4"/>
<path d="M464.98 435.5H469.58M467.28 433.2V437.8" stroke="#0000ff" stroke-width="1.4"/>
<path d="M476.55 435.5H481.15M478.85 433.2V437.8" stroke="#0000ff" stroke-width="1.4"/>
<path d="M488.11 435.5H492.71M490.41 433.2V437.8" stroke="#0000ff" stroke-width="1.4"/>
<path d="M499.68 435.5H504.28M501.98 433.2V437.8" stroke="#0000ff" stroke-width="1.4"/>
<path d="M511.24 435.5H515.84M513.54 433.2V437.8" stroke="#0000ff" stroke-width="1.4"/>
<path d="M522.81 435.5H527.4M525.11 433.2V437.8" stroke="#0000ff" stroke-width="1.4"/>
<path d="M534.37 435.5H538.97M536.67 433.2V437.8" stroke="#0000ff" stroke-width="1.4"/>
<path d="M545.94 435.5H550.53M548.24 433.2V437.8" stroke="#0000ff" stroke-width="1.4"/>
<path d="M557.5 435.5H562.1M559.8 433.2V437.8" stroke="#0000ff" stroke-width="1.4"/>
</g>
<g clip-path="url(#cpBR)" fill="none" stroke-linejoin="bevel" stroke-linecap="butt">
<polyline points="328.5,436.2 340.06,436.2 351.63,436.2 363.19,434.8 374.76,427.5 386.32,403.2 397.89,377.3 409.45,403 421.02,427.4 432.58,434.6 444.15,436 455.71,436.4 467.28,436.4 478.85,436.4 490.41,436.4 501.98,436.4 513.54,436.4 525.11,436.4 536.67,436.4 548.24,436.4 559.8,436.4" stroke="#00ffff" stroke-width="1.6"/>
</g><g fill="none">
<rect x="326.65" y="434.35" width="3.7" height="3.7" fill="none" stroke="#00ffff" stroke-width="1.55"/>
<rect x="338.21" y="434.35" width="3.7" height="3.7" fill="none" stroke="#00ffff" stroke-width="1.55"/>
<rect x="349.78" y="434.35" width="3.7" height="3.7" fill="none" stroke="#00ffff" stroke-width="1.55"/>
<rect x="361.34" y="432.95" width="3.7" height="3.7" fill="none" stroke="#00ffff" stroke-width="1.55"/>
<rect x="372.91" y="425.65" width="3.7" height="3.7" fill="none" stroke="#00ffff" stroke-width="1.55"/>
<rect x="384.47" y="401.35" width="3.7" height="3.7" fill="none" stroke="#00ffff" stroke-width="1.55"/>
<rect x="396.04" y="375.45" width="3.7" height="3.7" fill="none" stroke="#00ffff" stroke-width="1.55"/>
<rect x="407.6" y="401.15" width="3.7" height="3.7" fill="none" stroke="#00ffff" stroke-width="1.55"/>
<rect x="419.17" y="425.55" width="3.7" height="3.7" fill="none" stroke="#00ffff" stroke-width="1.55"/>
<rect x="430.73" y="432.75" width="3.7" height="3.7" fill="none" stroke="#00ffff" stroke-width="1.55"/>
<rect x="442.3" y="434.15" width="3.7" height="3.7" fill="none" stroke="#00ffff" stroke-width="1.55"/>
<rect x="453.86" y="434.55" width="3.7" height="3.7" fill="none" stroke="#00ffff" stroke-width="1.55"/>
<rect x="465.43" y="434.55" width="3.7" height="3.7" fill="none" stroke="#00ffff" stroke-width="1.55"/>
<rect x="477" y="434.55" width="3.7" height="3.7" fill="none" stroke="#00ffff" stroke-width="1.55"/>
<rect x="488.56" y="434.55" width="3.7" height="3.7" fill="none" stroke="#00ffff" stroke-width="1.55"/>
<rect x="500.12" y="434.55" width="3.7" height="3.7" fill="none" stroke="#00ffff" stroke-width="1.55"/>
<rect x="511.69" y="434.55" width="3.7" height="3.7" fill="none" stroke="#00ffff" stroke-width="1.55"/>
<rect x="523.25" y="434.55" width="3.7" height="3.7" fill="none" stroke="#00ffff" stroke-width="1.55"/>
<rect x="534.82" y="434.55" width="3.7" height="3.7" fill="none" stroke="#00ffff" stroke-width="1.55"/>
<rect x="546.38" y="434.55" width="3.7" height="3.7" fill="none" stroke="#00ffff" stroke-width="1.55"/>
<rect x="557.95" y="434.55" width="3.7" height="3.7" fill="none" stroke="#00ffff" stroke-width="1.55"/>
</g>
<text x="328.75" y="457.4" font-size="11.6" class="tk" text-anchor="middle">0</text>
<text x="386.5" y="457.4" font-size="11.6" class="tk" text-anchor="middle">5</text>
<text x="444.25" y="457.4" font-size="11.6" class="tk" text-anchor="middle">10</text>
<text x="502" y="457.4" font-size="11.6" class="tk" text-anchor="middle">15</text>
<text x="559.75" y="457.4" font-size="11.6" class="tk" text-anchor="middle">20</text>
<text x="326.5" y="438.75" font-size="11.6" class="tk" text-anchor="end">0</text>
<text x="326.5" y="413.12" font-size="11.6" class="tk" text-anchor="end">5</text>
<text x="326.5" y="387.5" font-size="11.6" class="tk" text-anchor="end">10</text>
<text x="326.5" y="361.88" font-size="11.6" class="tk" text-anchor="end">15</text>
<text x="326.5" y="336.25" font-size="11.6" class="tk" text-anchor="end">20</text>
<text x="326.5" y="310.62" font-size="11.6" class="tk" text-anchor="end">25</text>
<text x="326.5" y="285" font-size="11.6" class="tk" text-anchor="end">30</text>
<text x="444" y="259.9" font-size="11.3" class="tt" text-anchor="middle"><tspan class="s" font-size="12.5" fill="#333" stroke="none">&#945;</tspan> = 0.01</text>
<text x="444" y="272.1" font-size="11.3" class="tt" text-anchor="middle">z = 97 voxels</text>
<text x="443.2" y="477.8" font-size="13.3" text-anchor="middle"><tspan class="s" fill="#444" stroke="none" font-size="14">&#916;</tspan>x [voxel]</text>
<text transform="translate(303.5,362.2) rotate(-90)" font-size="13.3" text-anchor="middle">c [au]</text>
<rect x="492.8" y="284.3" width="63.4" height="42.5" fill="#fff" stroke="#9a9a9a" stroke-width="1"/>
<path d="M496.8 291.9H517.8" stroke="#ff0000" stroke-width="1.6"/>
<circle cx="507.3" cy="291.9" r="1.85" fill="none" stroke="#ff0000" stroke-width="1.55"/>
<text x="520.3" y="295.9" font-size="11.2">MART</text>
<path d="M496.8 305.5H517.8" stroke="#0000ff" stroke-width="1.6"/>
<path d="M505 305.5H509.6M507.3 303.2V307.8" stroke="#0000ff" stroke-width="1.4"/>
<text x="520.3" y="309.5" font-size="11.2">ideal</text>
<path d="M496.8 319.1H517.8" stroke="#00ffff" stroke-width="1.6"/>
<rect x="505.45" y="317.25" width="3.7" height="3.7" fill="none" stroke="#00ffff" stroke-width="1.55"/>
<text x="520.3" y="323.1" font-size="11.2">ghosts</text>
</svg></body></html>
